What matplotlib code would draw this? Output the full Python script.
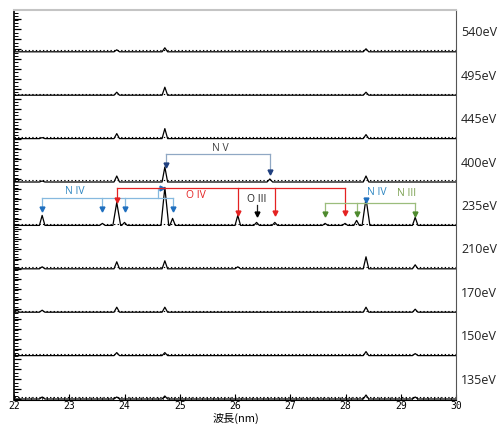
import matplotlib.pyplot as plt
from matplotlib.ticker import MultipleLocator

# energies from bottom to top
energias = ["135eV", "150eV", "170eV", "210eV", "235eV", "400eV", "445eV", "495eV", "540eV"]
separacion = 43.4

# peaks of each spectrum: (wavelength nm, height)
picos = {
    "135eV": [(22.51, 2), (23.86, 2), (24.73, 3), (28.37, 4), (29.26, 2)],
    "150eV": [(23.86, 3), (24.73, 3), (28.37, 4), (29.26, 2)],
    "170eV": [(22.51, 2), (23.86, 5), (24.73, 5), (28.37, 5), (29.26, 3)],
    "210eV": [(22.51, 2), (23.86, 7), (24.73, 8), (26.05, 2), (28.37, 12), (29.26, 4)],
    "235eV": [(22.51, 10), (23.6, 2), (23.86, 23), (24.0, 3), (24.73, 38), (24.87, 7),
              (26.05, 10), (26.39, 3), (26.72, 3), (27.63, 2), (27.99, 2), (28.2, 5),
              (28.37, 27), (29.26, 8)],
    "400eV": [(22.51, 1), (23.86, 6), (24.73, 15), (26.63, 3), (28.37, 6)],
    "445eV": [(22.51, 1), (23.86, 5), (24.73, 10), (28.37, 4)],
    "495eV": [(23.86, 3), (24.73, 8), (28.37, 3)],
    "540eV": [(23.86, 2), (24.73, 4), (28.37, 3)],
}

fig = plt.figure(figsize=(4.99, 4.24), dpi=100)
ax = fig.add_axes([0.028, 0.0566, 0.886, 0.9198])

for i, e in enumerate(energias):
    base = i * separacion
    xs = [22.0]
    ys = [base]
    for w, h in sorted(picos[e]):
        ancho = 0.05 if h < 20 else 0.07
        xs += [w - ancho, w, w + ancho]
        ys += [base, base + h, base]
    xs.append(30.0)
    ys.append(base)
    ax.plot(xs, ys, color="black", lw=0.9)
    # textura del fondo
    ax.plot([22, 30], [base + 1.6, base + 1.6], color="black", lw=0.8,
            linestyle=(0, (1.2, 2.0)))
    ax.text(30.09, base + 19, e, ha="left", va="center", fontsize=9,
            family="Open Sans", color="#222222")


def flecha(x, y0, y1, col_linea, col_punta, marca="v"):
    ax.plot([x, x], [y0, y1], color=col_linea, lw=0.9)
    ax.plot([x], [y1], marker=marca, color=col_punta, markersize=3.5, lw=0)


# N IV (izquierda)
azul_l, azul_p = "#86b9df", "#1f6fbf"
niv_x = [22.51, 23.6, 24.0, 24.87]
ax.plot([22.51, 24.87], [201, 201], color=azul_l, lw=0.9)
for x in niv_x:
    flecha(x, 201, 190, azul_l, azul_p)
ax.plot([24.61, 24.61, 24.68], [201, 211, 211], color=azul_l, lw=0.9)
ax.plot([24.68], [211], marker=">", color=azul_p, markersize=3.5, lw=0)
ax.text(23.1, 208, "N IV", color="#2e86c1", fontsize=7.5, family="Open Sans",
        ha="center", va="center")

# O IV
rojo = "#e42222"
oiv_x = [23.86, 26.05, 26.72, 27.99]
ax.plot([23.86, 27.99], [211, 211], color=rojo, lw=0.9)
flecha(23.86, 211, 199, rojo, rojo)
for x in oiv_x[1:]:
    flecha(x, 211, 186, rojo, rojo)
ax.text(25.29, 204, "O IV", color=rojo, fontsize=7.5, family="Open Sans",
        ha="center", va="center")

# O III
ax.text(26.40, 200, "O III", color="#222222", fontsize=7.5, family="Open Sans",
        ha="center", va="center")
flecha(26.40, 194, 185, "#222222", "black")

# N V
nv_l, nv_p = "#90a8c4", "#1f3f7f"
ax.plot([24.75, 26.63], [245, 245], color=nv_l, lw=0.9)
flecha(24.75, 245, 234, nv_l, nv_p)
flecha(26.63, 245, 227, nv_l, nv_p)
ax.text(25.73, 251, "N V", color="#404040", fontsize=7.5, family="Open Sans",
        ha="center", va="center")

# N III
verde_l, verde_p = "#9bbd7c", "#4e8a2e"
ax.plot([27.63, 29.26], [196, 196], color=verde_l, lw=0.9)
for x in [27.63, 28.2, 29.26]:
    flecha(x, 196, 185, verde_l, verde_p)
ax.text(29.11, 206, "N III", color="#7aa050", fontsize=7.5, family="Open Sans",
        ha="center", va="center")

# N IV (derecha)
ax.plot([28.37], [199], marker="v", color=azul_p, markersize=3.5, lw=0)
ax.text(28.57, 207, "N IV", color="#2e86c1", fontsize=7.5, family="Open Sans",
        ha="center", va="center")

ax.set_xlim(22, 30)
ax.set_ylim(-1, 389)
ax.xaxis.set_major_locator(MultipleLocator(1))
ax.xaxis.set_minor_locator(MultipleLocator(0.1))
ax.yaxis.set_major_locator(MultipleLocator(10))
ax.yaxis.set_minor_locator(MultipleLocator(3.3))
ax.tick_params(axis="x", which="major", direction="in", length=4, width=0.8,
               labelsize=7, pad=0.5, top=False)
ax.tick_params(axis="x", which="minor", direction="in", length=2, width=0.5, top=False)
ax.tick_params(axis="y", which="major", direction="in", length=5, width=0.9,
               labelleft=False, right=False)
ax.tick_params(axis="y", which="minor", direction="in", length=3, width=0.7, right=False)
for lab in ax.get_xticklabels():
    lab.set_family("DejaVu Sans Mono")

ax.spines["top"].set_color("#c4c4c4")
ax.spines["top"].set_linewidth(1.5)
ax.spines["right"].set_color("#555555")
ax.spines["left"].set_linewidth(1.2)

fig.text(0.472, 0.0, "波長(nm)", family=["Noto Sans CJK JP", "DejaVu Sans"],
         fontsize=8, ha="center", va="bottom")

fig.savefig("out.png", dpi=100)
